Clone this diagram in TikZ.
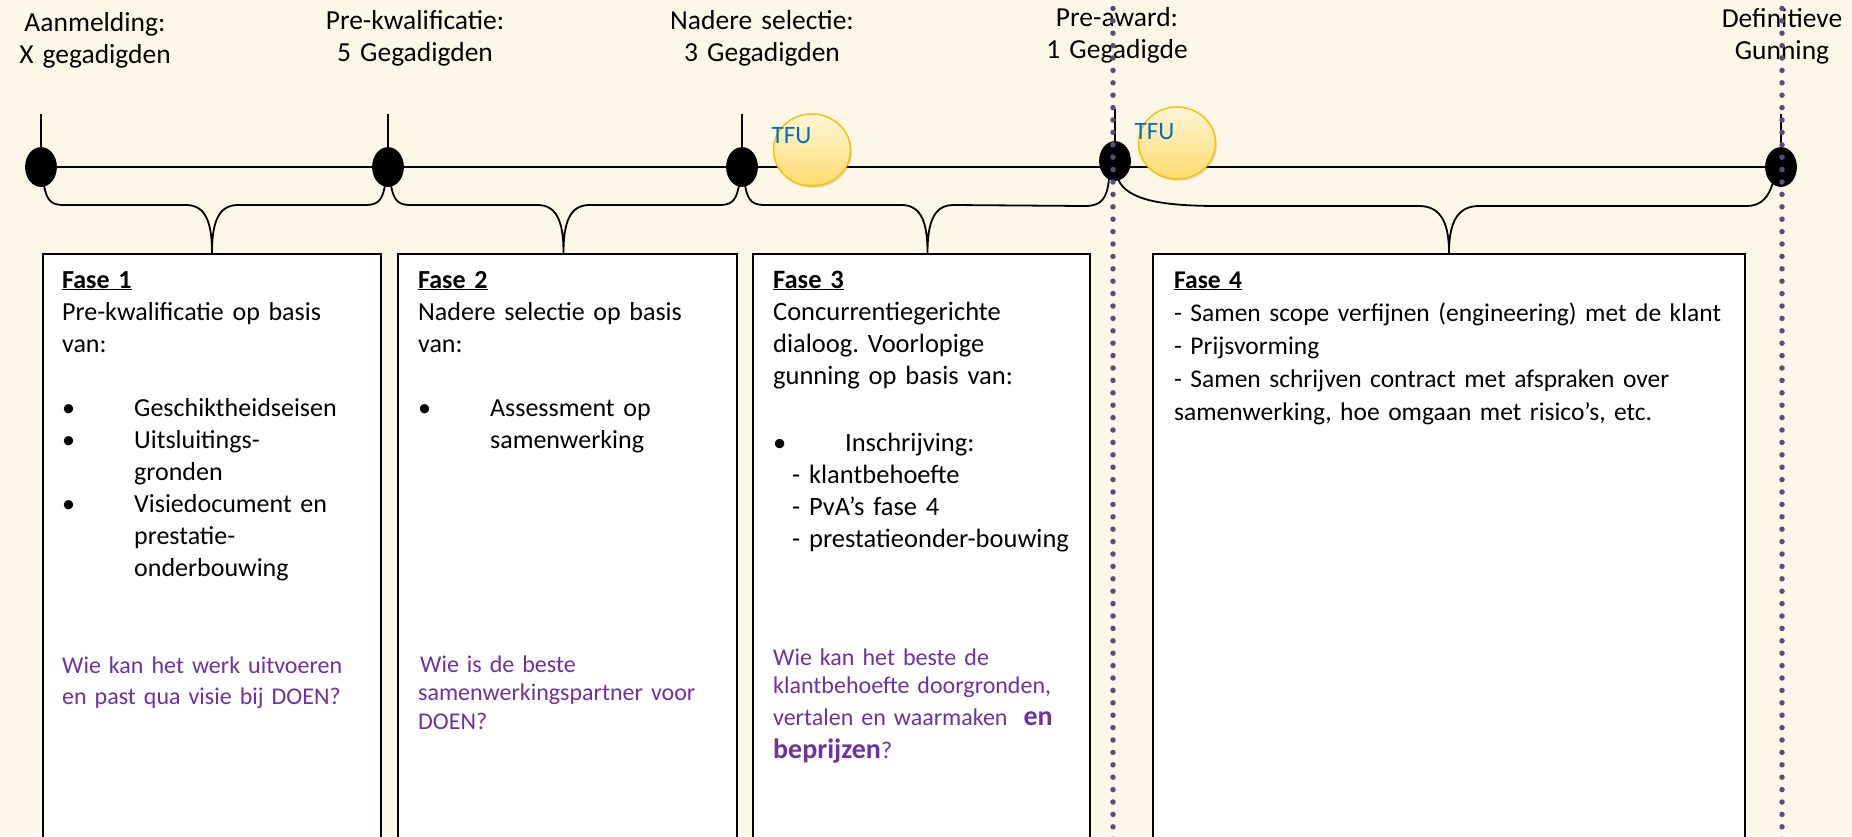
\documentclass[tikz,border=0pt]{standalone}
\usepackage{fontspec}
\setmainfont{Carlito}
\usetikzlibrary{calc, positioning, shapes.geometric, shadows}
\frenchspacing

\definecolor{papier}{RGB}{253,247,231}
\definecolor{vraag}{RGB}{112,48,160}
\definecolor{stip}{RGB}{94,74,128}
\definecolor{tfublauw}{RGB}{0,112,192}
\definecolor{tfurand}{RGB}{255,192,0}
\definecolor{tfulicht}{RGB}{255,245,214}
\definecolor{tfudonker}{RGB}{255,220,110}

\newcommand{\opsom}{\makebox[72pt][l]{\textbullet}}
\newcommand{\inspring}{\hspace*{72pt}}

\begin{document}
\begin{tikzpicture}[x=1pt, y=-1pt, line width=1.8pt]
        % Stijlen voor mijlpalen, fases en teksten
        \tikzstyle{mijlpaal} = [draw, fill, ellipse, minimum width=30pt, minimum height=38pt, inner sep=0pt]
        \tikzstyle{kop} = [anchor=base, text width=220pt, align=center, inner sep=0pt, font=\fontsize{27.5}{32}\selectfont]
        \tikzstyle{fasebox} = [draw, fill=white, rectangle, minimum height=640pt, inner sep=0pt, line width=1.5pt]
        \tikzstyle{fasetekst} = [anchor=base west, text width=330pt, align=left, inner sep=0pt, font=\fontsize{26}{32}\selectfont]
        \tikzstyle{vraagtekst} = [anchor=base west, text width=330pt, align=left, inner sep=0pt, text=vraag, font=\fontsize{24}{28.5}\selectfont]
        \tikzstyle{tfu} = [draw=tfurand, line width=1.5pt, ellipse, minimum width=77pt, minimum height=72pt, top color=tfulicht, bottom color=tfudonker, drop shadow={opacity=0.25, shadow xshift=1.5pt, shadow yshift=-2pt}]
        \tikzstyle{tfulabel} = [anchor=base west, inner sep=0pt, text=tfublauw, font=\fontsize{25}{30}\selectfont]
        \tikzstyle{stippellijn} = [stip, line width=5.5pt, line cap=round, dash pattern=on 0pt off 12.4pt]

        \useasboundingbox (0,0) rectangle (1852,836);
        \clip (0,0) rectangle (1852,836);
        \fill [papier] (0,0) rectangle (1852,836);

        % Fases
        \node [fasebox, minimum width=338pt, anchor=north] (f1) at (212,253) {};
        \node [fasebox, minimum width=339pt, anchor=north] (f2) at (567.5,253) {};
        \node [fasebox, minimum width=337pt, anchor=north] (f3) at (921.5,253) {};
        \node [fasebox, minimum width=592pt, anchor=north] (f4) at (1449,253) {};

        % Mijlpalen
        \node [mijlpaal] (d1) at (41,167) {};
        \node [mijlpaal] (d2) at (388,167) {};
        \node [mijlpaal] (d3) at (742,167) {};
        \node [mijlpaal] (d4) at (1115,161) {};
        \node [mijlpaal] (d5) at (1781,167) {};
        \node [coordinate, above=33pt of d1.north] (s1) {};
        \node [coordinate, above=33pt of d2.north] (s2) {};
        \node [coordinate, above=33pt of d3.north] (s3) {};
        \node [coordinate, above=32pt of d4.north] (s4) {};
        \node [coordinate, above=33pt of d5.north] (s5) {};

        % Tijdlijn
        \draw (d1) -- (d5);
        \draw (d1) -- (s1);
        \draw (d2) -- (s2);
        \draw (d3) -- (s3);
        \draw (d4) -- (s4);
        \draw (d5) -- (s5);

        % Accolades
        \draw ($(d1)+(3,18)$) .. controls ($(d1)+(6,36)$) and ($(d1)+(12,38)$) .. ($(d1)+(24,38)$)
          -- ($(f1.north)+(-26,-48)$) .. controls ($(f1.north)+(-6,-48)$) and ($(f1.north)+(0,-30)$) .. (f1.north)
          .. controls ($(f1.north)+(0,-30)$) and ($(f1.north)+(6,-48)$) .. ($(f1.north)+(26,-48)$)
          -- ($(d2)+(-24,38)$) .. controls ($(d2)+(-12,38)$) and ($(d2)+(-6,36)$) .. ($(d2)+(-3,18)$);
        \draw ($(d2)+(3,18)$) .. controls ($(d2)+(6,36)$) and ($(d2)+(12,38)$) .. ($(d2)+(24,38)$)
          -- ($(f2.north)+(-30,-48)$) .. controls ($(f2.north)+(-10,-48)$) and ($(f2.north)+(-4,-30)$) .. ($(f2.north)+(-4,0)$)
          .. controls ($(f2.north)+(-4,-30)$) and ($(f2.north)+(2,-48)$) .. ($(f2.north)+(22,-48)$)
          -- ($(d3)+(-24,38)$) .. controls ($(d3)+(-12,38)$) and ($(d3)+(-6,36)$) .. ($(d3)+(-3,18)$);
        \draw ($(d3)+(3,18)$) .. controls ($(d3)+(6,36)$) and ($(d3)+(12,38)$) .. ($(d3)+(24,38)$)
          -- ($(f3.north)+(-20,-48)$) .. controls ($(f3.north)+(0,-48)$) and ($(f3.north)+(6,-30)$) .. ($(f3.north)+(6,0)$)
          .. controls ($(f3.north)+(6,-30)$) and ($(f3.north)+(12,-48)$) .. ($(f3.north)+(32,-48)$)
          -- ($(d4)+(-30,45)$) .. controls ($(d4)+(-14,45)$) and ($(d4)+(-8,38)$) .. ($(d4)+(-6,18)$);
        \draw ($(d4)+(3,18)$) .. controls ($(d4)+(12,40)$) and ($(d4)+(50,45)$) .. ($(d4)+(105,45)$)
          -- ($(f4.north)+(-30,-47)$) .. controls ($(f4.north)+(-8,-47)$) and ($(f4.north)+(0,-30)$) .. (f4.north)
          .. controls ($(f4.north)+(0,-30)$) and ($(f4.north)+(8,-47)$) .. ($(f4.north)+(30,-47)$)
          -- ($(d5)+(-34,39)$) .. controls ($(d5)+(-20,39)$) and ($(d5)+(-12,30)$) .. ($(d5)+(-8,15)$);

        % TFU
        \node [tfu] (tfu1) at (812,150) {};
        \node [tfulabel] (tfut1) at ($(tfu1.west)+(-2,-7)$) {TFU};
        \node [tfu] (tfu2) at (1177,143) {};
        \node [tfulabel] (tfut2) at ($(tfu2.west)+(-4,-4)$) {TFU};

        % Koppen
        \node [kop] (k1) at (95,31) {Aanmelding:\\ X gegadigden};
        \node [kop] (k2) at (415,29) {Pre-kwalificatie:\\ 5 Gegadigden};
        \node [kop] (k3) at (762,29) {Nadere selectie:\\ 3 Gegadigden};
        \node [kop] (k4) at (1117,26) {Pre-award:\\ 1 Gegadigde};
        \node [kop] (k5) at (1782,27) {Definitieve\\ Gunning};

        % Teksten in de fases
        \node [fasetekst] (t1) at ($(f1.north west)+(19,35)$) {\underline{\textbf{Fase 1}}\\
          Pre-kwalificatie op basis\\ van:\\[32pt]
          \opsom Geschiktheidseisen\\ \opsom Uitsluitings-\\ \inspring gronden\\
          \opsom Visiedocument en\\ \inspring prestatie-\\ \inspring onderbouwing};
        \node [vraagtekst, font=\fontsize{24}{31}\selectfont] (v1) at ($(f1.north west)+(19,420)$) {Wie kan het werk uitvoeren\\ en past qua visie bij DOEN?};

        \node [fasetekst] (t2) at ($(f2.north west)+(20,35)$) {\underline{\textbf{Fase 2}}\\
          Nadere selectie op basis\\ van:\\[32pt]
          \opsom Assessment op\\ \inspring samenwerking};
        \node [vraagtekst] (v2) at ($(f2.north west)+(20,419)$) {\hspace*{2pt}Wie is de beste\\ samenwerkingspartner voor\\ DOEN?};

        \node [fasetekst, font=\fontsize{26.5}{32}\selectfont] (t3) at ($(f3.north west)+(20,35)$) {\underline{\textbf{Fase 3}}\\
          Concurrentiegerichte\\ dialoog. Voorlopige\\ gunning op basis van:\\[35pt]
          \opsom Inschrijving:\\ \hspace*{19pt}- klantbehoefte\\ \hspace*{19pt}- PvA’s fase 4\\ \hspace*{19pt}- prestatieonder-bouwing};
        \node [vraagtekst] (v3) at ($(f3.north west)+(20,412)$) {Wie kan het beste de\\ klantbehoefte doorgronden,\\[3.5pt]
          vertalen en waarmaken\ \ {\fontsize{28}{32}\selectfont\bfseries en}\\[4.5pt]
          {\fontsize{28}{32}\selectfont\bfseries beprijzen}?};

        \node [fasetekst, text width=570pt, font=\fontsize{25.5}{33}\selectfont] (t4) at ($(f4.north west)+(21,35)$) {\underline{\textbf{Fase 4}}\\
          - Samen scope verfijnen (engineering) met de klant\\ - Prijsvorming\\
          - Samen schrijven contract met afspraken over\\ samenwerking, hoe omgaan met risico’s, etc.};

        % Stippellijnen
        \node [coordinate] (p1) at (1113,-4) {};
        \node [coordinate] (q1) at (1113,840) {};
        \node [coordinate] (p2) at (1782,-4) {};
        \node [coordinate] (q2) at (1782,840) {};
        \draw [stippellijn] (p1) -- (q1);
        \draw [stippellijn] (p2) -- (q2);
\end{tikzpicture}
\end{document}
